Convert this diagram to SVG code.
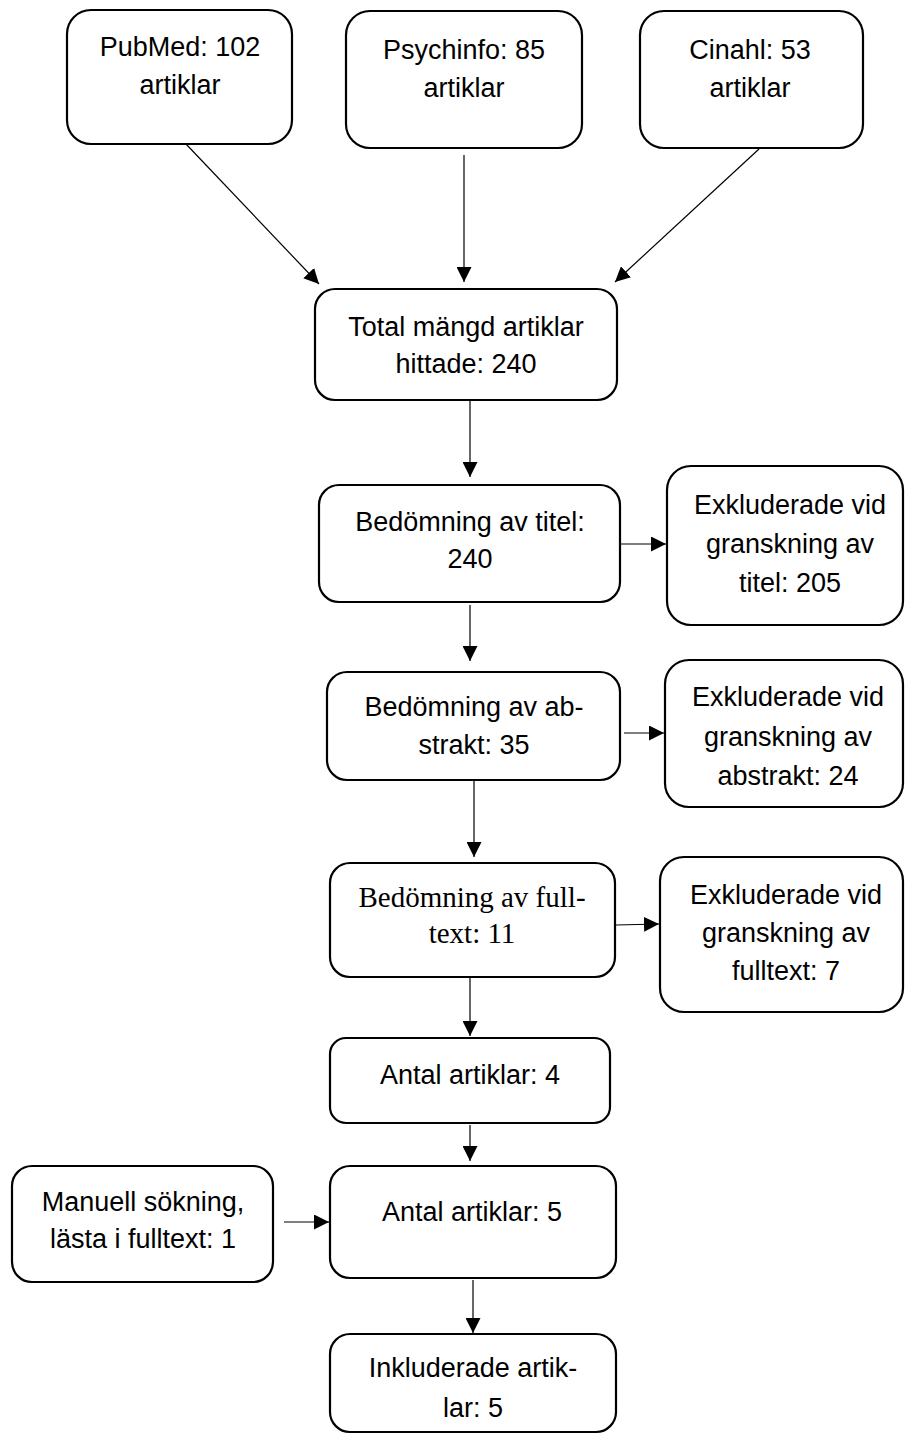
<svg xmlns="http://www.w3.org/2000/svg" width="905" height="1434" viewBox="0 0 905 1434">
<style>
.box{fill:#fff;stroke:#000;stroke-width:2.2}
.t{font-family:"Liberation Sans",Arial,sans-serif;font-size:27px;fill:#000;text-anchor:middle}
.s{font-family:"Liberation Serif","Times New Roman",serif;font-size:29px;fill:#000;text-anchor:middle}
.c{stroke:#000;stroke-width:1.2;fill:none;marker-end:url(#ah)}
</style>
<defs>
<marker id="ah" markerUnits="userSpaceOnUse" markerWidth="16" markerHeight="15" refX="15" refY="7.5" orient="auto">
<path d="M0,0 L15,7.5 L0,15 Z" fill="#000"/>
</marker>
</defs>
<rect width="905" height="1434" fill="#fff"/>
<g id="connectors">
<line class="c" x1="186" y1="144" x2="319" y2="284"/>
<line class="c" x1="464" y1="155" x2="464" y2="282"/>
<line class="c" x1="759" y1="149" x2="615" y2="282"/>
<line class="c" x1="470" y1="401" x2="470" y2="477"/>
<line class="c" x1="621" y1="544" x2="666" y2="544"/>
<line class="c" x1="470" y1="605" x2="470" y2="661"/>
<line class="c" x1="624" y1="733" x2="664" y2="733"/>
<line class="c" x1="474" y1="780" x2="474" y2="857"/>
<line class="c" x1="616" y1="925" x2="659" y2="924"/>
<line class="c" x1="470" y1="978" x2="470" y2="1036"/>
<line class="c" x1="470" y1="1125" x2="470" y2="1161"/>
<line class="c" x1="284" y1="1222" x2="329" y2="1222"/>
<line class="c" x1="473" y1="1280" x2="473" y2="1333"/>
</g>
<g id="pubmed">
<rect class="box" x="67" y="10" width="225" height="134" rx="24"/>
<text class="t" x="180" y="56">PubMed: 102</text>
<text class="t" x="180" y="94">artiklar</text>
</g>
<g id="psychinfo">
<rect class="box" x="346" y="11" width="236" height="137" rx="24"/>
<text class="t" x="464" y="59">Psychinfo: 85</text>
<text class="t" x="464" y="97">artiklar</text>
</g>
<g id="cinahl">
<rect class="box" x="640" y="11" width="223" height="137" rx="24"/>
<text class="t" x="750" y="59">Cinahl: 53</text>
<text class="t" x="750" y="97">artiklar</text>
</g>
<g id="total">
<rect class="box" x="315" y="289" width="302" height="111" rx="20"/>
<text class="t" x="466" y="336">Total mängd artiklar</text>
<text class="t" x="466" y="373">hittade: 240</text>
</g>
<g id="titel">
<rect class="box" x="319" y="485" width="301" height="117" rx="20"/>
<text class="t" x="470" y="531">Bedömning av titel:</text>
<text class="t" x="470" y="568">240</text>
</g>
<g id="excl-titel">
<rect class="box" x="667" y="466" width="236" height="159" rx="24"/>
<text class="t" x="790" y="514">Exkluderade vid</text>
<text class="t" x="790" y="553">granskning av</text>
<text class="t" x="790" y="592">titel: 205</text>
</g>
<g id="abstrakt">
<rect class="box" x="327" y="672" width="293" height="108" rx="20"/>
<text class="t" x="474" y="716">Bedömning av ab-</text>
<text class="t" x="474" y="754">strakt: 35</text>
</g>
<g id="excl-abstrakt">
<rect class="box" x="665" y="660" width="238" height="147" rx="24"/>
<text class="t" x="788" y="706">Exkluderade vid</text>
<text class="t" x="788" y="746">granskning av</text>
<text class="t" x="788" y="785">abstrakt: 24</text>
</g>
<g id="fulltext">
<rect class="box" x="330" y="863" width="285" height="114" rx="20"/>
<text class="s" x="472" y="907">Bedömning av full-</text>
<text class="s" x="472" y="943">text: 11</text>
</g>
<g id="excl-fulltext">
<rect class="box" x="660" y="857" width="243" height="155" rx="24"/>
<text class="t" x="786" y="904">Exkluderade vid</text>
<text class="t" x="786" y="942">granskning av</text>
<text class="t" x="786" y="980">fulltext: 7</text>
</g>
<g id="antal4">
<rect class="box" x="330" y="1038" width="280" height="85" rx="16"/>
<text class="t" x="470" y="1084">Antal artiklar: 4</text>
</g>
<g id="manuell">
<rect class="box" x="12" y="1166" width="261" height="116" rx="20"/>
<text class="t" x="143" y="1211">Manuell sökning,</text>
<text class="t" x="143" y="1248">lästa i fulltext: 1</text>
</g>
<g id="antal5">
<rect class="box" x="330" y="1166" width="286" height="112" rx="20"/>
<text class="t" x="472" y="1221">Antal artiklar: 5</text>
</g>
<g id="inkluderade">
<rect class="box" x="330" y="1334" width="286" height="98" rx="20"/>
<text class="t" x="473" y="1377">Inkluderade artik-</text>
<text class="t" x="473" y="1417">lar: 5</text>
</g>
</svg>
